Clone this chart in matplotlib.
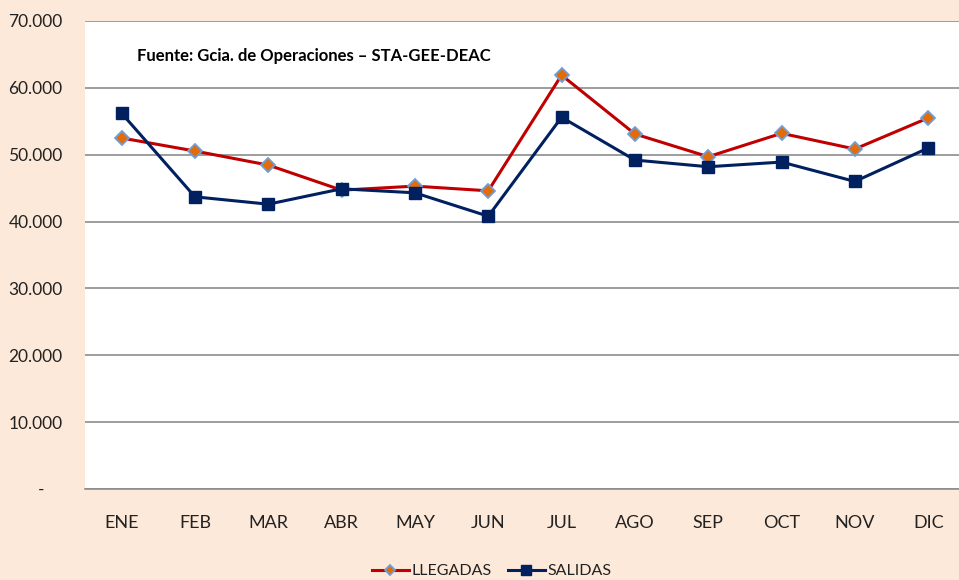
import matplotlib.pyplot as plt
from matplotlib.ticker import FuncFormatter

MONTHS = ['ENE', 'FEB', 'MAR', 'ABR', 'MAY', 'JUN',
          'JUL', 'AGO', 'SEP', 'OCT', 'NOV', 'DIC']
LLEGADAS = [52500, 50550, 48450, 44700, 45300, 44600,
            61900, 53100, 49700, 53200, 50850, 55500]
SALIDAS = [56200, 43700, 42600, 44900, 44300, 40800,
           55600, 49200, 48200, 48900, 46000, 51000]
Y_TICKS = [0, 10000, 20000, 30000, 40000, 50000, 60000, 70000]

BG = '#FDE9D9'


def fmt_thousands(value, pos):
    if value == 0:
        return '-    '
    return f'{int(value):,}'.replace(',', '.')


plt.rcParams['font.family'] = ['Lato', 'DejaVu Sans']

fig = plt.figure(figsize=(9.59, 5.8), dpi=100, facecolor=BG)
ax = fig.add_axes([0.0886, 0.1569, 0.9114, 0.8069])
ax.set_facecolor('white')

x = list(range(len(MONTHS)))
ax.plot(x, LLEGADAS, color='#C00000', linewidth=2.2, marker='D',
        markersize=7, markerfacecolor='#E36C09', markeredgecolor='#6F9FD8',
        markeredgewidth=1.3, label='LLEGADAS', zorder=3)
ax.plot(x, SALIDAS, color='#002060', linewidth=2.2, marker='s',
        markersize=9, markerfacecolor='#002060', markeredgecolor='#002060',
        label='SALIDAS', zorder=4)

ax.set_xlim(-0.5, 11.42)
ax.set_ylim(0, 70000)
ax.set_yticks(Y_TICKS)
ax.yaxis.set_major_formatter(FuncFormatter(fmt_thousands))
ax.set_xticks(x)
ax.set_xticklabels(MONTHS)

ax.grid(axis='y', color='#8C8C8C', linewidth=1.2)
ax.set_axisbelow(True)
for side in ['left', 'right', 'top']:
    ax.spines[side].set_visible(False)
ax.spines['bottom'].set_color('#8C8C8C')
ax.spines['bottom'].set_linewidth(1.2)

ax.tick_params(axis='y', length=0, pad=16, labelsize=12.5, labelcolor='#222222')
ax.tick_params(axis='x', length=0, pad=19, labelsize=13, labelcolor='#222222')

ax.text(0.0595, 0.925, 'Fuente: Gcia. de Operaciones – STA-GEE-DEAC',
        transform=ax.transAxes, fontsize=12, fontweight='bold',
        va='center', ha='left', color='black')

leg = fig.legend(loc='center', bbox_to_anchor=(492 / 959, 1 - 571 / 580),
                 ncol=2, frameon=False, fontsize=11.5, handlelength=2.3,
                 columnspacing=1.0, handletextpad=0.2, markerscale=0.8)
for t in leg.get_texts():
    t.set_color('#222222')

fig.savefig('out.png', dpi=100, facecolor=BG)
